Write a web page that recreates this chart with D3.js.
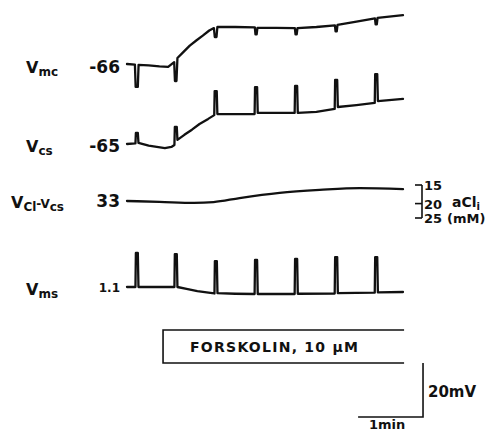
<!DOCTYPE html>
<html>
<head>
<meta charset="utf-8">
<script src="https://cdn.jsdelivr.net/npm/d3@7"></script>
<style>
  body { margin: 0; background: #fff; }
  text { font-family: "DejaVu Sans", "Liberation Sans", sans-serif; font-weight: bold; fill: #111; }
</style>
</head>
<body>
<div id="chart"></div>
<script>
// time in seconds, values in mV (aCl bracket in mM)
const vmc = [
  [0,-66.0],[7.3,-66.2],[8.0,-74.5],[10.0,-74.5],[10.7,-66.3],[20,-66.5],[30,-66.9],[38,-67.1],
  [43.6,-65.3],[44.3,-72.3],[45.7,-72.3],[46.6,-63.8],[52,-61.6],[58,-59.2],[64,-57.3],[70,-55.5],
  [76,-53.6],[80.3,-52.7],[81.1,-56],[82.7,-56],[83.5,-52.3],[100,-52.3],[118.1,-52.4],[118.7,-55],
  [119.8,-55],[120.5,-52.6],[138,-52.6],[155.1,-52.7],[155.7,-55],[156.8,-55],[157.5,-52.7],
  [175,-52.3],[192.1,-51.7],[192.7,-53.9],[193.8,-53.9],[194.5,-51.5],[212,-50.3],[229.1,-49.1],
  [229.7,-51.3],[230.8,-51.3],[231.5,-48.9],[255,-47.9]
];
const vcs = [
  [0,-65],[7.8,-64.8],[8.2,-60.9],[10.0,-60.9],[10.6,-64.6],[20,-65.6],[35,-66.5],[41,-66.1],
  [43.8,-65.4],[44.2,-58.7],[46.0,-58.7],[46.6,-63.5],[53,-61.6],[60,-59.7],[67,-57.6],[75,-55.7],
  [80.6,-54.3],[81.0,-45.4],[82.9,-45.4],[83.5,-53.9],[100,-53.9],[117.9,-53.9],[118.3,-43.9],
  [120.2,-43.9],[120.8,-53.5],[138,-53.5],[154.9,-53.5],[155.3,-43.5],[157.2,-43.5],[157.8,-53.5],
  [175,-53.1],[191.9,-52],[192.3,-41.3],[194.2,-41.3],[194.8,-51.3],[212,-50.6],[228.9,-49.8],
  [229.3,-39.1],[231.2,-39.1],[231.8,-49.1],[255,-48.3]
];
const vclVcs = [
  [0,33],[30,32.7],[62,32.3],[80,32.6],[104,34.1],[141,36],[178,37.1],[215,37.8],[255,37.4]
];
const vms = [
  [0,1.1],[7.8,1.1],[8.2,13.7],[10.0,13.7],[10.6,1.1],[43.8,1.1],[44.2,13.3],[46.0,13.3],[46.6,1.1],
  [55,0.4],[65,-0.4],[77,-1.1],[80.8,-1.3],[81.2,10.7],[83.0,10.7],[83.6,-1.2],[100,-1.4],
  [117.9,-1.5],[118.3,11.1],[120.2,11.1],[120.8,-1.5],[154.9,-1.5],[155.3,11.5],[157.2,11.5],
  [157.8,-1.4],[191.9,-1.3],[192.3,12.2],[194.2,12.2],[194.8,-1.2],[228.9,-1],[229.3,12.2],
  [231.2,12.2],[231.8,-0.9],[255,-0.75]
];
const baseValues = [-66, -65, 33, 1.1];
const baseLabels = ["-66", "-65", "33", "1.1"];
const aclTicks = [15, 20, 25];
const forskolin = { start: 33.3, end: 256, label: "FORSKOLIN, 10 \u03BCM" };
const scaleBarMv = 20, scaleBarSec = 60;

const W = 493, H = 433;
const svg = d3.select('#chart').append('svg').attr('width', W).attr('height', H);

const x = d3.scaleLinear().domain([0, 255]).range([127, 403]);
const pxPerMv = 2.7;
// each trace gets its own baseline row
const rows = [64, 144, 201, 287];
const yFor = (i) => d3.scaleLinear().domain([baseValues[i], baseValues[i] + 20]).range([rows[i], rows[i] - 20 * pxPerMv]);

const traces = [vmc, vcs, vclVcs, vms];
traces.forEach((data, i) => {
  const y = yFor(i);
  const line = d3.line()
    .x(d => x(d[0])).y(d => y(d[1]))
    .curve(i === 2 ? d3.curveMonotoneX : d3.curveLinear);
  svg.append('path').datum(data)
    .attr('d', line)
    .attr('fill', 'none').attr('stroke', '#111')
    .attr('stroke-width', 2.3)
    .attr('stroke-linejoin', 'round').attr('stroke-linecap', 'round');
});

// trace names
function vLabel(xp, yp, parts) {
  const t = svg.append('text').attr('x', xp).attr('y', yp).attr('font-size', 16);
  parts.forEach(p => {
    t.append('tspan').text(p[0]).attr('font-size', p[1] ? 12 : 16)
      .attr('dy', p[1] === 1 ? 3 : (p[1] === -1 ? -3 : 0));
  });
}
vLabel(26, rows[0] + 9, [['V', 0], ['mc', 1]]);
vLabel(26, rows[1] + 8, [['V', 0], ['cs', 1]]);
vLabel(11, rows[2] + 7, [['V', 0], ['Cl', 1], ['-V', -1], ['cs', 1]]);
vLabel(26, rows[3] + 8, [['V', 0], ['ms', 1]]);

const labelOffsets = [9, 8, 6, 5];
baseLabels.forEach((s, i) => {
  svg.append('text').attr('x', 120).attr('y', rows[i] + labelOffsets[i])
    .attr('text-anchor', 'end').attr('font-size', i === 3 ? 12 : 17).text(s);
});

// aCl bracket
const yAcl = d3.scaleLog().domain([15, 25]).range([185, 218]);
svg.append('line').attr('x1', 422).attr('x2', 422).attr('y1', yAcl(15)).attr('y2', yAcl(25))
  .attr('stroke', '#111').attr('stroke-width', 1.6);
aclTicks.forEach(v => {
  svg.append('line').attr('x1', 415).attr('x2', 422).attr('y1', yAcl(v)).attr('y2', yAcl(v))
    .attr('stroke', '#111').attr('stroke-width', 1.6);
  svg.append('text').attr('x', 424).attr('y', yAcl(v) + 5).attr('font-size', 13).text(v);
});
const acl = svg.append('text').attr('x', 452).attr('y', 207).attr('font-size', 14);
acl.append('tspan').text('aCl');
acl.append('tspan').text('i').attr('font-size', 10).attr('dy', 3);
svg.append('text').attr('x', 447).attr('y', 223).attr('font-size', 13).text('(mM)');

// forskolin bar
const bx0 = x(forskolin.start), bx1 = x(forskolin.end);
svg.append('path')
  .attr('d', `M${bx1},330H${bx0}V363H${bx1}`)
  .attr('fill', 'none').attr('stroke', '#111').attr('stroke-width', 1.6);
svg.append('text').attr('x', 190).attr('y', 352).attr('font-size', 14)
  .attr('textLength', 168).attr('lengthAdjust', 'spacing').text(forskolin.label);

// scale bars
const barEndT = 273.5;
const yBar = d3.scaleLinear().domain([0, scaleBarMv]).range([417, 417 - scaleBarMv * pxPerMv]);
svg.append('path')
  .attr('d', `M${x(barEndT)},${yBar(scaleBarMv)}V${yBar(0)}H${x(barEndT - scaleBarSec)}`)
  .attr('fill', 'none').attr('stroke', '#111').attr('stroke-width', 1.6);
svg.append('text').attr('x', 428).attr('y', 397).attr('font-size', 15).text(scaleBarMv + 'mV');
svg.append('text').attr('x', 369).attr('y', 429).attr('font-size', 13).text('1min');
</script>
</body>
</html>
